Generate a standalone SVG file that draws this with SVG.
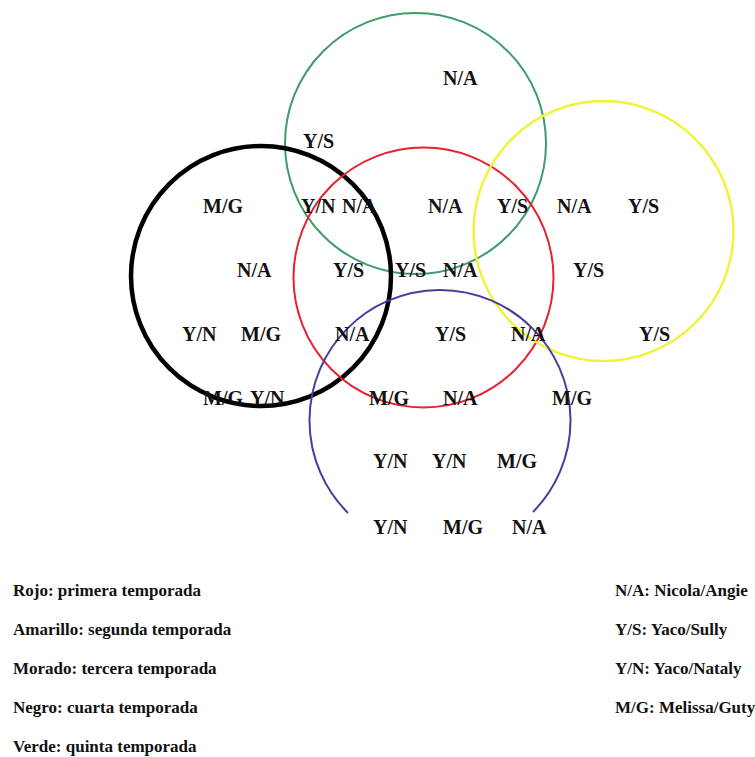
<svg xmlns="http://www.w3.org/2000/svg" width="755" height="757" viewBox="0 0 755 757">
  <style>
    .ring { fill: none; }
    .lbl { font-family: "Liberation Serif", "Times New Roman", serif; font-weight: bold; font-size: 20px; fill: #111; }
    .key { font-family: "Liberation Serif", "Times New Roman", serif; font-weight: bold; font-size: 17px; fill: #111; }
  </style>
  <rect width="755" height="757" fill="#ffffff"/>

  <!-- season circles -->
  <g id="verde"><circle class="ring" cx="415.5" cy="143.5" r="130.5" stroke="#3f9b6b" stroke-width="2"/></g>
  <g id="negro"><circle class="ring" cx="261" cy="276" r="130" stroke="#000000" stroke-width="4.5"/></g>
  <g id="rojo"><circle class="ring" cx="423.5" cy="277.5" r="130" stroke="#e8212e" stroke-width="2"/></g>
  <g id="amarillo"><circle class="ring" cx="603.5" cy="231" r="130" stroke="#f2f23a" stroke-width="2.5"/></g>
  <g id="morado"><path class="ring" d="M 348 513 A 130.5 130.5 0 1 1 533 512" stroke="#4b3b9c" stroke-width="2"/></g>

  <!-- couple labels inside the regions -->
  <g id="labels" class="lbl">
    <text x="443" y="85">N/A</text>
    <text x="303" y="148">Y/S</text>

    <text x="203" y="213">M/G</text>
    <text x="301" y="213">Y/N</text>
    <text x="342" y="213">N/A</text>
    <text x="428" y="213">N/A</text>
    <text x="497" y="213">Y/S</text>
    <text x="557" y="213">N/A</text>
    <text x="628" y="213">Y/S</text>

    <text x="237" y="277">N/A</text>
    <text x="333" y="277">Y/S</text>
    <text x="395" y="277">Y/S</text>
    <text x="443" y="277">N/A</text>
    <text x="573" y="277">Y/S</text>

    <text x="182" y="341">Y/N</text>
    <text x="241" y="341">M/G</text>
    <text x="335" y="341">N/A</text>
    <text x="435" y="341">Y/S</text>
    <text x="511" y="341">N/A</text>
    <text x="639" y="341">Y/S</text>

    <text x="203" y="405">M/G</text>
    <text x="250" y="405">Y/N</text>
    <text x="369" y="405">M/G</text>
    <text x="443" y="405">N/A</text>
    <text x="552" y="405">M/G</text>

    <text x="373" y="468">Y/N</text>
    <text x="432" y="468">Y/N</text>
    <text x="497" y="468">M/G</text>

    <text x="373" y="534">Y/N</text>
    <text x="443" y="534">M/G</text>
    <text x="512" y="534">N/A</text>
  </g>

  <!-- legend: colours -->
  <g id="legend-seasons" class="key">
    <text x="13" y="596">Rojo: primera temporada</text>
    <text x="13" y="635">Amarillo: segunda temporada</text>
    <text x="13" y="674">Morado: tercera temporada</text>
    <text x="13" y="713">Negro: cuarta temporada</text>
    <text x="13" y="752">Verde: quinta temporada</text>
  </g>

  <!-- legend: couples -->
  <g id="legend-couples" class="key">
    <text x="615" y="596">N/A: Nicola/Angie</text>
    <text x="615" y="635">Y/S: Yaco/Sully</text>
    <text x="615" y="674">Y/N: Yaco/Nataly</text>
    <text x="615" y="713">M/G: Melissa/Guty</text>
  </g>
</svg>
